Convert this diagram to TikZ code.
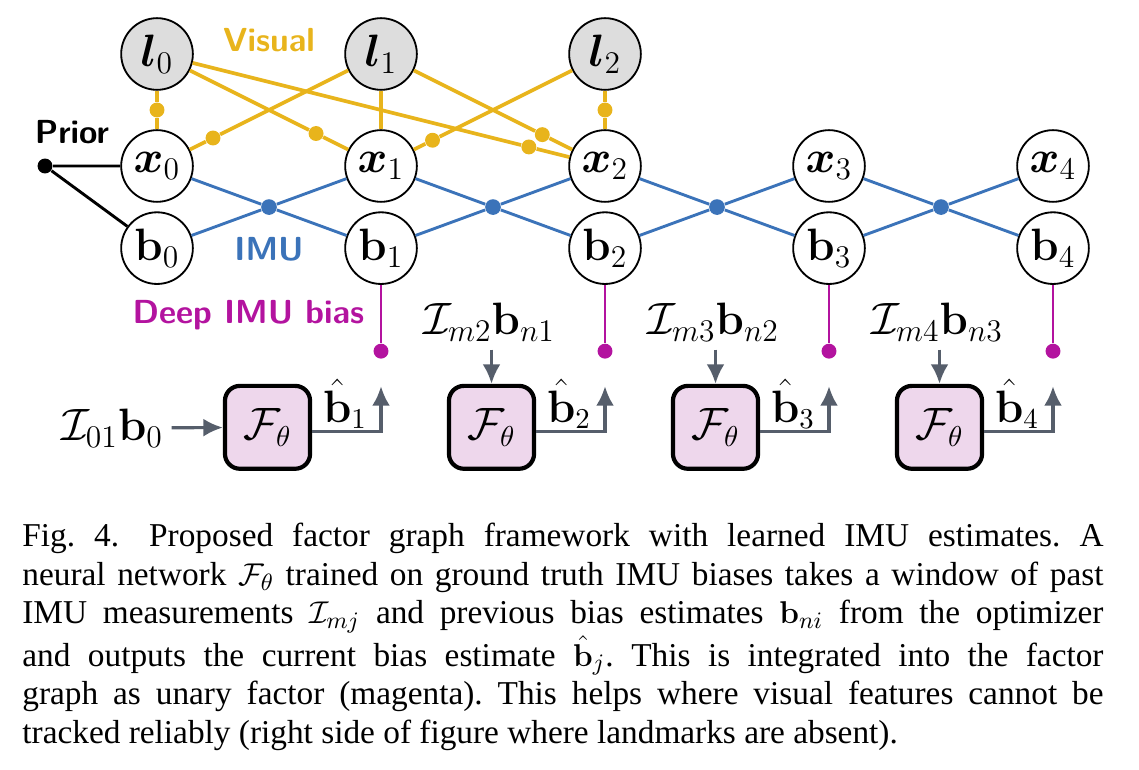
\documentclass[tikz,border=0pt]{standalone}
\usepackage[centertags]{amsmath}
\usepackage{amsfonts}
\usepackage{amssymb}
\usepackage[no-math]{fontspec}
\newfontfamily\capfont{Liberation Serif}
\usepackage{tikz}
\usetikzlibrary{arrows.meta,calc}

\definecolor{cVisual}{HTML}{E8B41C}
\definecolor{cImu}{HTML}{3B73B9}
\definecolor{cDeep}{HTML}{B3139F}
\definecolor{cNet}{HTML}{565E6B}
\definecolor{cNetFill}{HTML}{EED7EC}
\definecolor{cLm}{HTML}{DDDDDD}

\begin{document}
\begin{tikzpicture}[
  var/.style={draw,shape=circle,fill=white,line width=0.7pt,minimum size=0.96cm,inner sep=0pt,font=\fontsize{18.5}{20}\selectfont},
  lm/.style={var,fill=cLm},
  fac/.style={shape=circle,inner sep=0pt,minimum size=0.2cm},
  lbl/.style={font=\fontsize{12.7}{14}\selectfont\sffamily\bfseries},
  nnbox/.style={draw,rounded corners=0.2cm,fill=cNetFill,line width=1.6pt,minimum width=1.14cm,minimum height=1.11cm,font=\fontsize{16}{18}\selectfont},
  vis/.style={cVisual,line width=1.4pt},
  imu/.style={cImu,line width=1.1pt},
  deep/.style={cDeep,line width=0.8pt},
  feed/.style={cNet,line width=1.2pt,-{Latex[length=2.6mm,width=2.4mm]}},
  inp/.style={inner sep=3pt,font=\fontsize{16.5}{18}\selectfont},
  est/.style={inner sep=0pt,font=\fontsize{16}{18}\selectfont}]
      \useasboundingbox (-2.103,-8.079) rectangle (13.152,2.223);
      \node at (0,1.5)[lm] (l0){$\boldsymbol{l}_0$};
      \node at (3,1.5)[lm] (l1){$\boldsymbol{l}_1$};
      \node at (6,1.5)[lm] (l2){$\boldsymbol{l}_2$};
      \node at (0,0)[var] (x0){$\boldsymbol{x}_0$};
      \node at (3,0)[var] (x1){$\boldsymbol{x}_1$};
      \node at (6,0)[var] (x2){$\boldsymbol{x}_2$};
      \node at (9,0)[var] (x3){$\boldsymbol{x}_3$};
      \node at (12,0)[var] (x4){$\boldsymbol{x}_4$};
      \node at (0,-1.1)[var] (b0){$\mathbf{b}_0$};
      \node at (3,-1.1)[var] (b1){$\mathbf{b}_1$};
      \node at (6,-1.1)[var] (b2){$\mathbf{b}_2$};
      \node at (9,-1.1)[var] (b3){$\mathbf{b}_3$};
      \node at (12,-1.1)[var] (b4){$\mathbf{b}_4$};
      % prior
      \node at (-1.5,0)[fac,fill=black] (pr){};
      \node at (-1.14,0.45)[lbl] (prlbl){Prior};
      \draw[line width=1.1pt] (x0) -- (pr) -- (b0);
      % visual factors
      \node at (1.5,1.69)[lbl,text=cVisual] (vislbl){Visual};
      \node at ($(l0)!0.5!(x0)$)[fac,fill=cVisual] (v00){};
      \node at ($(l0)!0.71!(x1)$)[fac,fill=cVisual] (v01){};
      \node at ($(l0)!0.83!(x2)$)[fac,fill=cVisual] (v02){};
      \node at ($(l1)!0.75!(x0)$)[fac,fill=cVisual] (v10){};
      \node at ($(l1)!0.72!(x2)$)[fac,fill=cVisual] (v12){};
      \node at ($(l2)!0.77!(x1)$)[fac,fill=cVisual] (v21){};
      \node at ($(l2)!0.5!(x2)$)[fac,fill=cVisual] (v22){};
      \draw[vis] (l0) -- (v00) -- (x0);
      \draw[vis] (l0) -- (v01) -- (x1);
      \draw[vis] (l0) -- (v02) -- (x2);
      \draw[vis] (l1) -- (v10) -- (x0);
      \draw[vis] (l1) -- (x1);
      \draw[vis] (l1) -- (v12) -- (x2);
      \draw[vis] (l2) -- (v21) -- (x1);
      \draw[vis] (l2) -- (v22) -- (x2);
      % imu factors
      \node at ($(x0)!0.5!(b1)$)[fac,fill=cImu,minimum size=0.21cm] (m1){};
      \node at ($(x1)!0.5!(b2)$)[fac,fill=cImu,minimum size=0.21cm] (m2){};
      \node at ($(x2)!0.5!(b3)$)[fac,fill=cImu,minimum size=0.21cm] (m3){};
      \node at ($(x3)!0.5!(b4)$)[fac,fill=cImu,minimum size=0.21cm] (m4){};
      \node at (1.5,-1.12)[lbl,text=cImu] (imulbl){IMU};
      \draw[imu] (x0) -- (m1) -- (b1);
      \draw[imu] (b0) -- (m1) -- (x1);
      \draw[imu] (x1) -- (m2) -- (b2);
      \draw[imu] (b1) -- (m2) -- (x2);
      \draw[imu] (x2) -- (m3) -- (b3);
      \draw[imu] (b2) -- (m3) -- (x3);
      \draw[imu] (x3) -- (m4) -- (b4);
      \draw[imu] (b3) -- (m4) -- (x4);
      % deep imu bias factors
      \node at (2.9,-2.0)[lbl,anchor=east,text=cDeep] (deeplbl){Deep IMU bias};
      \node at (3,-2.48)[fac,fill=cDeep] (d1){};
      \node at (6,-2.48)[fac,fill=cDeep] (d2){};
      \node at (9,-2.48)[fac,fill=cDeep] (d3){};
      \node at (12,-2.48)[fac,fill=cDeep] (d4){};
      \draw[deep] (b1) -- (d1);
      \draw[deep] (b2) -- (d2);
      \draw[deep] (b3) -- (d3);
      \draw[deep] (b4) -- (d4);
      % networks
      \node at (1.48,-3.5)[nnbox] (f1){$\mathcal{F}_\theta$};
      \node at (4.48,-3.5)[nnbox] (f2){$\mathcal{F}_\theta$};
      \node at (7.48,-3.5)[nnbox] (f3){$\mathcal{F}_\theta$};
      \node at (10.48,-3.5)[nnbox] (f4){$\mathcal{F}_\theta$};
      \node at (-0.6,-3.51)[inp] (in1){$\mathcal{I}_{01}\mathbf{b}_0$};
      \node at (4.45,-2.09)[inp] (in2){$\mathcal{I}_{m2}\mathbf{b}_{n1}$};
      \node at (7.45,-2.09)[inp] (in3){$\mathcal{I}_{m3}\mathbf{b}_{n2}$};
      \node at (10.45,-2.09)[inp] (in4){$\mathcal{I}_{m4}\mathbf{b}_{n3}$};
      \draw[feed] (in1) -- (f1);
      \draw[feed] (in2.south -| f2) -- (f2);
      \draw[feed] (in3.south -| f3) -- (f3);
      \draw[feed] (in4.south -| f4) -- (f4);
      \coordinate (o1) at (3,-2.95);
      \coordinate (o2) at (6,-2.95);
      \coordinate (o3) at (9,-2.95);
      \coordinate (o4) at (12,-2.95);
      \draw[feed] ([yshift=-0.06cm]f1.east) -| (o1);
      \draw[feed] ([yshift=-0.06cm]f2.east) -| (o2);
      \draw[feed] ([yshift=-0.06cm]f3.east) -| (o3);
      \draw[feed] ([yshift=-0.06cm]f4.east) -| (o4);
      \node at (2.82,-3.43)[est,anchor=base east] (h1){$\hat{\mathbf{b}}_1$};
      \node at (5.82,-3.43)[est,anchor=base east] (h2){$\hat{\mathbf{b}}_2$};
      \node at (8.82,-3.43)[est,anchor=base east] (h3){$\hat{\mathbf{b}}_3$};
      \node at (11.82,-3.43)[est,anchor=base east] (h4){$\hat{\mathbf{b}}_4$};
      % caption
      \node at (-1.81,-5.10)[anchor=base west,inner sep=0pt,text width=14.48cm,align=justify,
        font=\capfont\fontsize{12.7}{14.7}\selectfont\frenchspacing] (cap){Fig.~4.\hspace{0.9em}Proposed factor graph framework with learned IMU estimates. A\linebreak
        neural network $\mathcal{F}_\theta$ trained on ground truth IMU biases takes a window of past\linebreak
        IMU measurements $\mathcal{I}_{mj}$ and previous bias estimates $\mathbf{b}_{ni}$ from the optimizer\linebreak
        and outputs the current bias estimate $\hat{\mathbf{b}}_j$. This is integrated into the factor\linebreak
        graph as unary factor (magenta). This helps where visual features cannot be\linebreak
        tracked reliably (right side of figure where landmarks are absent).};
\end{tikzpicture}
\end{document}
